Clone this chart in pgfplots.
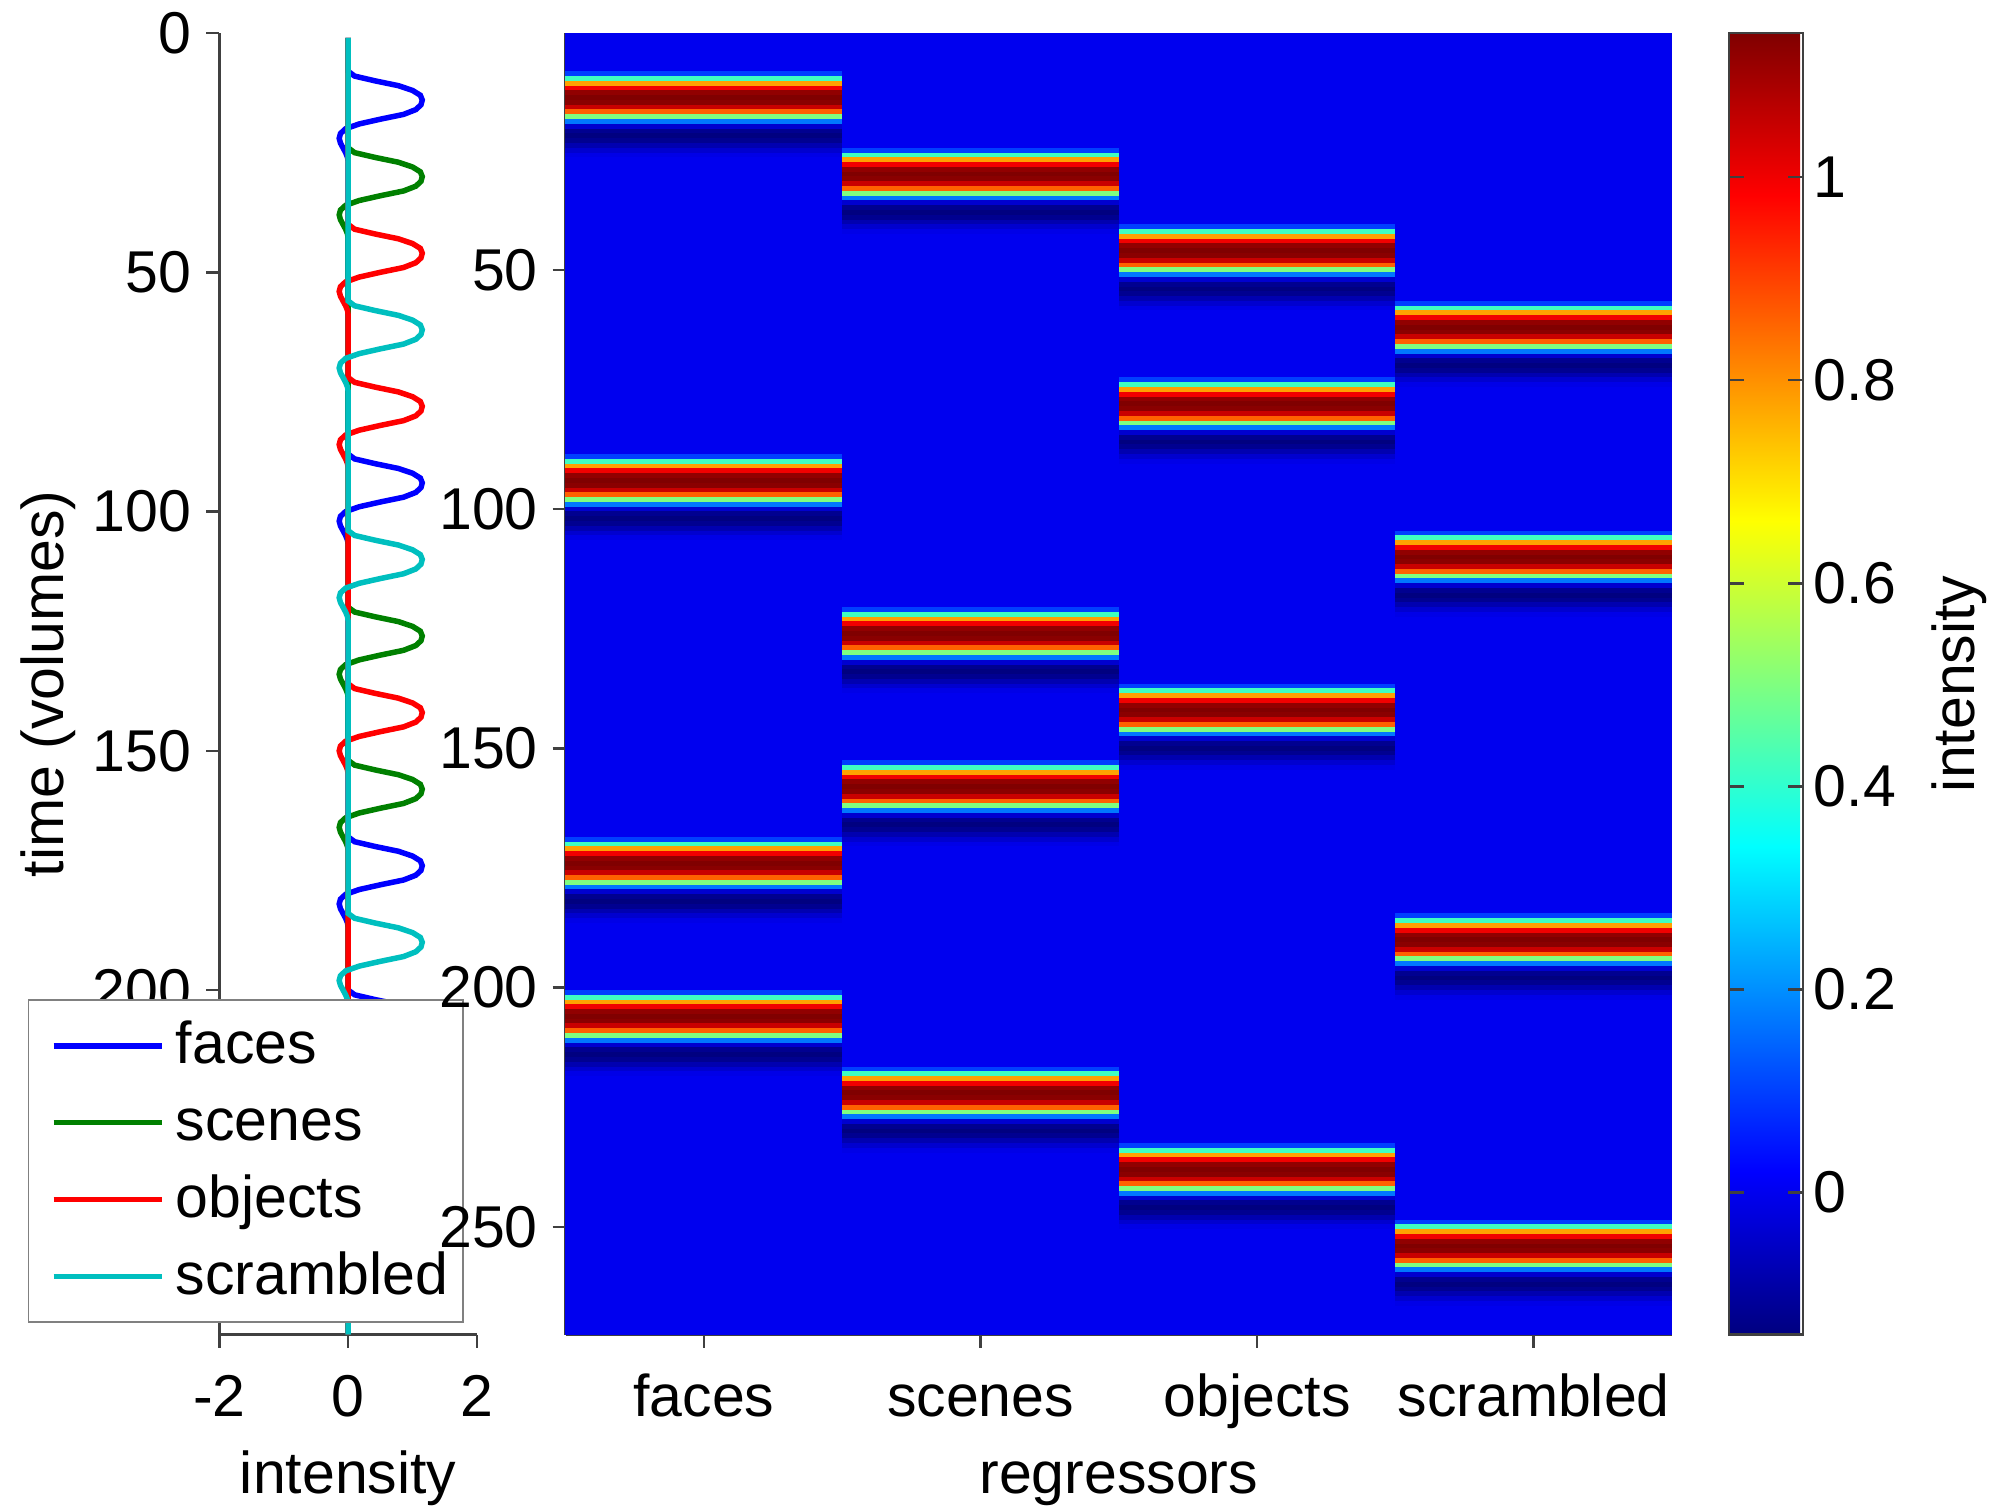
\documentclass[border=0pt]{standalone}
\usepackage{fontspec}
\setmainfont{Liberation Sans}
\usepackage{pgfplots}
\usepackage{pgfplotstable}
\pgfplotsset{compat=1.18}
\definecolor{mblue}{rgb}{0,0,1}
\definecolor{mgreen}{rgb}{0,0.5,0}
\definecolor{mred}{rgb}{1,0,0}
\definecolor{mcyan}{rgb}{0,0.75,0.75}
\pgfdeclareplotmark{cell}{\pgfpathrectangle{\pgfpoint{-27.7pt}{-0.5pt}}{\pgfpoint{55.4pt}{1.0pt}}\pgfusepathqfill}
\newcommand{\LE}[1]{\raisebox{0pt}[9pt][0pt]{#1}}
\pgfplotstableread{
t f s o c
1 0 0 0 0
2 0 0 0 0
3 0 0 0 0
4 0 0 0 0
5 0 0 0 0
6 0 0 0 0
7 0 0 0 0
8 0 0 0 0
9 0.1 0 0 0
10 0.42 0 0 0
11 0.78 0 0 0
12 1.0 0 0 0
13 1.12 0 0 0
14 1.15 0 0 0
15 1.13 0 0 0
16 1.05 0 0 0
17 0.86 0 0 0
18 0.5 0 0 0
19 0.17 0 0 0
20 -0.04 0 0 0
21 -0.12 0 0 0
22 -0.14 0 0 0
23 -0.12 0 0 0
24 -0.08 0 0 0
25 -0.04 0.1 0 0
26 -0.01 0.42 0 0
27 0 0.78 0 0
28 0 1.0 0 0
29 0 1.12 0 0
30 0 1.15 0 0
31 0 1.13 0 0
32 0 1.05 0 0
33 0 0.86 0 0
34 0 0.5 0 0
35 0 0.17 0 0
36 0 -0.04 0 0
37 0 -0.12 0 0
38 0 -0.14 0 0
39 0 -0.12 0 0
40 0 -0.08 0 0
41 0 -0.04 0.1 0
42 0 -0.01 0.42 0
43 0 0 0.78 0
44 0 0 1.0 0
45 0 0 1.12 0
46 0 0 1.15 0
47 0 0 1.13 0
48 0 0 1.05 0
49 0 0 0.86 0
50 0 0 0.5 0
51 0 0 0.17 0
52 0 0 -0.04 0
53 0 0 -0.12 0
54 0 0 -0.14 0
55 0 0 -0.12 0
56 0 0 -0.08 0
57 0 0 -0.04 0.1
58 0 0 -0.01 0.42
59 0 0 0 0.78
60 0 0 0 1.0
61 0 0 0 1.12
62 0 0 0 1.15
63 0 0 0 1.13
64 0 0 0 1.05
65 0 0 0 0.86
66 0 0 0 0.5
67 0 0 0 0.17
68 0 0 0 -0.04
69 0 0 0 -0.12
70 0 0 0 -0.14
71 0 0 0 -0.12
72 0 0 0 -0.08
73 0 0 0.1 -0.04
74 0 0 0.42 -0.01
75 0 0 0.78 0
76 0 0 1.0 0
77 0 0 1.12 0
78 0 0 1.15 0
79 0 0 1.13 0
80 0 0 1.05 0
81 0 0 0.86 0
82 0 0 0.5 0
83 0 0 0.17 0
84 0 0 -0.04 0
85 0 0 -0.12 0
86 0 0 -0.14 0
87 0 0 -0.12 0
88 0 0 -0.08 0
89 0.1 0 -0.04 0
90 0.42 0 -0.01 0
91 0.78 0 0 0
92 1.0 0 0 0
93 1.12 0 0 0
94 1.15 0 0 0
95 1.13 0 0 0
96 1.05 0 0 0
97 0.86 0 0 0
98 0.5 0 0 0
99 0.17 0 0 0
100 -0.04 0 0 0
101 -0.12 0 0 0
102 -0.14 0 0 0
103 -0.12 0 0 0
104 -0.08 0 0 0
105 -0.04 0 0 0.1
106 -0.01 0 0 0.42
107 0 0 0 0.78
108 0 0 0 1.0
109 0 0 0 1.12
110 0 0 0 1.15
111 0 0 0 1.13
112 0 0 0 1.05
113 0 0 0 0.86
114 0 0 0 0.5
115 0 0 0 0.17
116 0 0 0 -0.04
117 0 0 0 -0.12
118 0 0 0 -0.14
119 0 0 0 -0.12
120 0 0 0 -0.08
121 0 0.1 0 -0.04
122 0 0.42 0 -0.01
123 0 0.78 0 0
124 0 1.0 0 0
125 0 1.12 0 0
126 0 1.15 0 0
127 0 1.13 0 0
128 0 1.05 0 0
129 0 0.86 0 0
130 0 0.5 0 0
131 0 0.17 0 0
132 0 -0.04 0 0
133 0 -0.12 0 0
134 0 -0.14 0 0
135 0 -0.12 0 0
136 0 -0.08 0 0
137 0 -0.04 0.1 0
138 0 -0.01 0.42 0
139 0 0 0.78 0
140 0 0 1.0 0
141 0 0 1.12 0
142 0 0 1.15 0
143 0 0 1.13 0
144 0 0 1.05 0
145 0 0 0.86 0
146 0 0 0.5 0
147 0 0 0.17 0
148 0 0 -0.04 0
149 0 0 -0.12 0
150 0 0 -0.14 0
151 0 0 -0.12 0
152 0 0 -0.08 0
153 0 0.1 -0.04 0
154 0 0.42 -0.01 0
155 0 0.78 0 0
156 0 1.0 0 0
157 0 1.12 0 0
158 0 1.15 0 0
159 0 1.13 0 0
160 0 1.05 0 0
161 0 0.86 0 0
162 0 0.5 0 0
163 0 0.17 0 0
164 0 -0.04 0 0
165 0 -0.12 0 0
166 0 -0.14 0 0
167 0 -0.12 0 0
168 0 -0.08 0 0
169 0.1 -0.04 0 0
170 0.42 -0.01 0 0
171 0.78 0 0 0
172 1.0 0 0 0
173 1.12 0 0 0
174 1.15 0 0 0
175 1.13 0 0 0
176 1.05 0 0 0
177 0.86 0 0 0
178 0.5 0 0 0
179 0.17 0 0 0
180 -0.04 0 0 0
181 -0.12 0 0 0
182 -0.14 0 0 0
183 -0.12 0 0 0
184 -0.08 0 0 0
185 -0.04 0 0 0.1
186 -0.01 0 0 0.42
187 0 0 0 0.78
188 0 0 0 1.0
189 0 0 0 1.12
190 0 0 0 1.15
191 0 0 0 1.13
192 0 0 0 1.05
193 0 0 0 0.86
194 0 0 0 0.5
195 0 0 0 0.17
196 0 0 0 -0.04
197 0 0 0 -0.12
198 0 0 0 -0.14
199 0 0 0 -0.12
200 0 0 0 -0.08
201 0.1 0 0 -0.04
202 0.42 0 0 -0.01
203 0.78 0 0 0
204 1.0 0 0 0
205 1.12 0 0 0
206 1.15 0 0 0
207 1.13 0 0 0
208 1.05 0 0 0
209 0.86 0 0 0
210 0.5 0 0 0
211 0.17 0 0 0
212 -0.04 0 0 0
213 -0.12 0 0 0
214 -0.14 0 0 0
215 -0.12 0 0 0
216 -0.08 0 0 0
217 -0.04 0.1 0 0
218 -0.01 0.42 0 0
219 0 0.78 0 0
220 0 1.0 0 0
221 0 1.12 0 0
222 0 1.15 0 0
223 0 1.13 0 0
224 0 1.05 0 0
225 0 0.86 0 0
226 0 0.5 0 0
227 0 0.17 0 0
228 0 -0.04 0 0
229 0 -0.12 0 0
230 0 -0.14 0 0
231 0 -0.12 0 0
232 0 -0.08 0 0
233 0 -0.04 0.1 0
234 0 -0.01 0.42 0
235 0 0 0.78 0
236 0 0 1.0 0
237 0 0 1.12 0
238 0 0 1.15 0
239 0 0 1.13 0
240 0 0 1.05 0
241 0 0 0.86 0
242 0 0 0.5 0
243 0 0 0.17 0
244 0 0 -0.04 0
245 0 0 -0.12 0
246 0 0 -0.14 0
247 0 0 -0.12 0
248 0 0 -0.08 0
249 0 0 -0.04 0.1
250 0 0 -0.01 0.42
251 0 0 0 0.78
252 0 0 0 1.0
253 0 0 0 1.12
254 0 0 0 1.15
255 0 0 0 1.13
256 0 0 0 1.05
257 0 0 0 0.86
258 0 0 0 0.5
259 0 0 0 0.17
260 0 0 0 -0.04
261 0 0 0 -0.12
262 0 0 0 -0.14
263 0 0 0 -0.12
264 0 0 0 -0.08
265 0 0 0 -0.04
266 0 0 0 -0.01
267 0 0 0 0
268 0 0 0 0
269 0 0 0 0
270 0 0 0 0
271 0 0 0 0
272 0 0 0 0
}\data
\begin{document}
\fontsize{11.8}{14}\selectfont
\begin{tikzpicture}
\path[use as bounding box] (0pt,0pt) rectangle (397.8pt,-301pt);
\begin{axis}[
  at={(43.88pt,-6.6pt)}, anchor=north west,
  width=51.52pt, height=260.3pt, scale only axis,
  xmin=-2, xmax=2, ymin=0, ymax=272, y dir=reverse,
  axis x line*=bottom, axis y line*=left,
  xtick={-2,0,2}, xticklabels={-2,0,2},
  ytick={0,50,100,150,200,250},
  tick align=outside, major tick length=2.6pt,
  axis line style={black!75, line width=0.5pt},
  every tick/.style={black!75, line width=0.5pt},
  xticklabel style={text height=9.6pt, text depth=0pt},
  yticklabel style={inner xsep=2.8pt},
  /pgf/number format/assume math mode=true,
  xlabel={intensity}, ylabel={time (volumes)},
  xlabel style={at={(axis description cs:0.5,0)}, anchor=base, yshift=-31.7pt},
  ylabel style={at={(axis description cs:-0.6654,0.5)}, anchor=center},
  legend cell align=left,
  legend image code/.code={\path (0pt,0pt); \draw[#1, line width=1.1pt] (1.5pt,0pt) -- (23.1pt,0pt);},
  legend style={at={(axis description cs:-0.7446,0.2578)}, anchor=north west,
    draw=black!50, line width=0.35pt, fill=white,
    inner xsep=3pt, inner ysep=3.8pt,
    nodes={inner sep=0pt},
    row sep=4.6pt, column sep=2.3pt},
]
\addplot[mblue, line width=1.1pt] table[x=f, y=t] {\data};
\addlegendentry{\LE{faces}}
\addplot[mgreen, line width=1.1pt] table[x=s, y=t] {\data};
\addlegendentry{\LE{scenes}}
\addplot[mred, line width=1.1pt] table[x=o, y=t] {\data};
\addlegendentry{\LE{objects}}
\addplot[mcyan, line width=1.1pt] table[x=c, y=t] {\data};
\addlegendentry{\LE{scrambled}}
\end{axis}
\begin{axis}[
  at={(113.14pt,-6.6pt)}, anchor=north west,
  width=221.24pt, height=260.3pt, scale only axis,
  xmin=0.5, xmax=4.5, ymin=0.5, ymax=272.5, y dir=reverse,
  axis x line*=bottom, axis y line*=left,
  xtick={1,2,3,4}, xticklabels={faces,scenes,objects,scrambled},
  ytick={50,100,150,200,250},
  tick align=outside, major tick length=2.6pt,
  axis line style={black!75, line width=0.5pt},
  every tick/.style={black!75, line width=0.5pt},
  xticklabel style={text height=9.6pt, text depth=0pt},
  yticklabel style={inner xsep=2.8pt},
  /pgf/number format/assume math mode=true,
  xlabel={regressors},
  xlabel style={at={(axis description cs:0.5,0)}, anchor=base, yshift=-31.7pt},
  colormap/jet,
  point meta min=-0.14, point meta max=1.142,
  colorbar,
  colorbar shift/.style={xshift=11.4pt},
  colorbar style={at={(parent axis.north east)}, anchor=north west,
    width=14.8pt, height=260.3pt, scale only axis,
    ytick={0,0.2,0.4,0.6,0.8,1},
    yticklabels={0,0.2,0.4,0.6,0.8,1},
    ytick pos=both, yticklabel pos=right,
    tick align=inside, major tick length=3pt,
    every tick/.style={black!75, line width=0.5pt},
    axis line style={black!75, line width=0.5pt},
    yticklabel style={inner xsep=2pt},
    ylabel={intensity},
    ylabel style={at={(axis description cs:3.115,0.5)}, anchor=center},
  },
]
\addplot[scatter, only marks, mark=cell, point meta=explicit,
  scatter/use mapped color={draw=none, fill=mapped color}] table[x expr=1, y=t, meta=f] {\data};
\addplot[scatter, only marks, mark=cell, point meta=explicit,
  scatter/use mapped color={draw=none, fill=mapped color}] table[x expr=2, y=t, meta=s] {\data};
\addplot[scatter, only marks, mark=cell, point meta=explicit,
  scatter/use mapped color={draw=none, fill=mapped color}] table[x expr=3, y=t, meta=o] {\data};
\addplot[scatter, only marks, mark=cell, point meta=explicit,
  scatter/use mapped color={draw=none, fill=mapped color}] table[x expr=4, y=t, meta=c] {\data};
\end{axis}
\end{tikzpicture}
\end{document}
